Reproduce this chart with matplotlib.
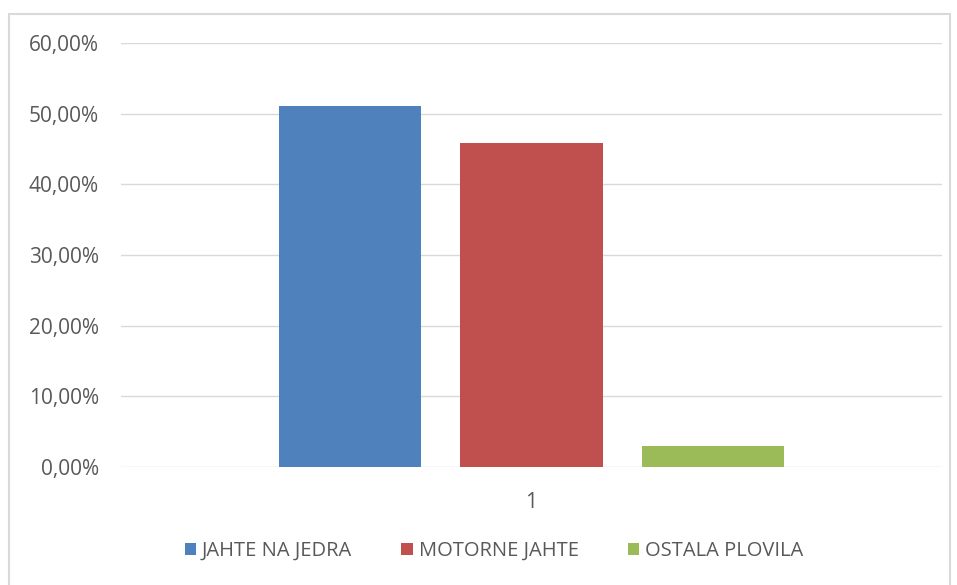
import numpy as np
import matplotlib.pyplot as plt
from matplotlib.patches import Rectangle
from matplotlib.ticker import FuncFormatter

plt.rcParams['font.family'] = ['Open Sans', 'DejaVu Sans']

# data
categories = ['1']
series = ['JAHTE NA JEDRA', 'MOTORNE JAHTE', 'OSTALA PLOVILA']
values = [0.511, 0.458, 0.0295]
colors = ['#4F81BD', '#C0504D', '#9BBB59']
yticks = [0.0, 0.1, 0.2, 0.3, 0.4, 0.5, 0.6]

W, H = 957, 585
fig = plt.figure(figsize=(W/100, H/100), dpi=100)

# outer chart border
fig.patches.append(Rectangle((9/W, -0.05), 941/W, 1.05-14/H, transform=fig.transFigure,
                             fill=False, edgecolor='#d9d9d9', lw=1.5))

ax = fig.add_axes([121/W, 1-467/H, 821/W, 424/H])

x = np.arange(len(categories))
bw = 0.174
offs = [-0.221, 0.0, 0.221]
for name, v, c, o in zip(series, values, colors, offs):
    ax.bar(x + o, [v], width=bw, color=c, label=name, zorder=3)

ax.set_xlim(-0.5, 0.5)
ax.set_ylim(0, 0.6)
ax.set_yticks(yticks)
ax.yaxis.set_major_formatter(FuncFormatter(lambda v, p: ('%.2f%%' % (v*100)).replace('.', ',')))
ax.set_xticks(x)
ax.set_xticklabels(categories)
ax.grid(axis='y', color='#d9d9d9', lw=1, zorder=0)
for s in ax.spines.values():
    s.set_visible(False)
ax.tick_params(length=0, labelsize=15, labelcolor='#595959')
ax.tick_params(axis='y', pad=16)
ax.tick_params(axis='x', pad=18)

fig.legend(loc='center', bbox_to_anchor=(494/W, 1-551/H), ncol=3, frameon=False,
           fontsize=14.5, labelcolor='#595959', handlelength=0.55, handleheight=0.55,
           handletextpad=0.3, columnspacing=2.45)

fig.savefig('out.png', dpi=100)
